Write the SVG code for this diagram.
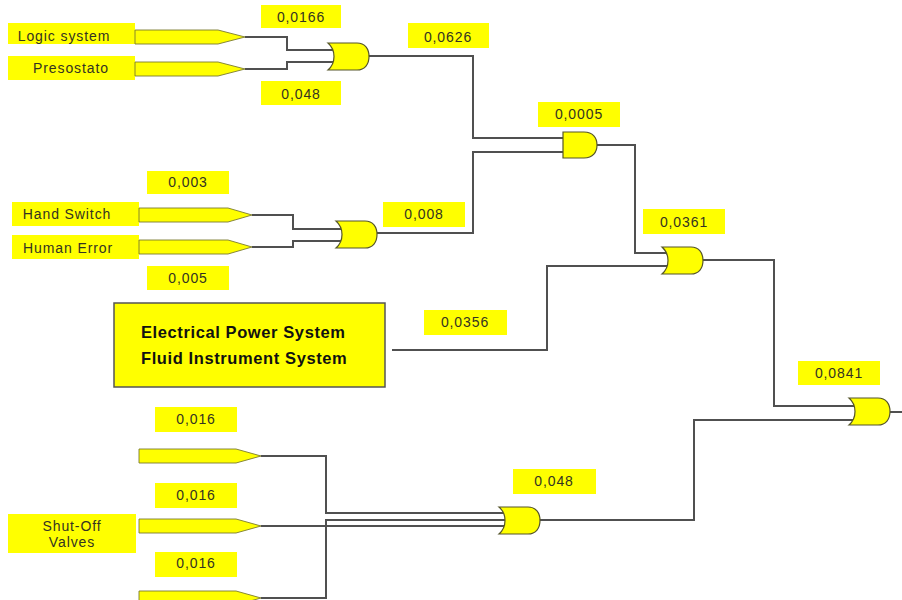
<svg xmlns="http://www.w3.org/2000/svg" width="902" height="600" viewBox="0 0 902 600">
<defs>
<style>
.bg{fill:#ffffff}
.box{fill:#ffff00}
.t{font-family:"Liberation Sans",Arial,sans-serif;font-size:14px;fill:#333322;letter-spacing:0.9px;text-anchor:middle}
.tb{font-family:"Liberation Sans",Arial,sans-serif;font-size:16.5px;font-weight:bold;fill:#111;letter-spacing:0.6px}
.ev{fill:#ffff00;stroke:#7a7a30;stroke-width:0.9}
.gate{fill:#ffff00;stroke:#55552a;stroke-width:1.2}
.wire{fill:none;stroke:#505050;stroke-width:2}
</style>
<path id="orG" d="M0,0 H29 C37,0 41,6 41,13.5 C41,21 37,27 29,27 H0 C8,20 8,7 0,0 Z"/>
<path id="andG" d="M0,0 H21 C30,0 34,6 34,13 C34,20 30,26 21,26 H0 Z"/>
</defs>
<rect class="bg" x="0" y="0" width="902" height="600"/>

<g id="connectors">
<polyline class="wire" points="245,37 287,37 287,50 334,50"/>
<polyline class="wire" points="245,69 287,69 287,62 334,62"/>
<polyline class="wire" points="368,56 473,56 473,138 566,138"/>
<polyline class="wire" points="377,233 473,233 473,152 566,152"/>
<polyline class="wire" points="252,215 293,215 293,229 341,229"/>
<polyline class="wire" points="252,247 293,247 293,241 341,241"/>
<polyline class="wire" points="597,145 635,145 635,253 668,253"/>
<polyline class="wire" points="392,350 547,350 547,266 668,266"/>
<polyline class="wire" points="702,260 774,260 774,406 854,406"/>
<polyline class="wire" points="539,520 694,520 694,420 854,420"/>
<polyline class="wire" points="890,412 902,412"/>
<polyline class="wire" points="261,456 326,456 326,513 505,513"/>
<polyline class="wire" points="261,526 505,526"/>
<polyline class="wire" points="261,598 326,598 326,520 505,520"/>
</g>

<g id="logic-system">
<rect class="box" x="8" y="23" width="127" height="21"/>
<text class="t" x="64" y="41">Logic system</text>
<polygon class="ev" points="135,30 218,30 245,37 218,44 135,44"/>
</g>
<g id="presostato">
<rect class="box" x="8" y="56" width="127" height="24"/>
<text class="t" x="71" y="73">Presostato</text>
<polygon class="ev" points="135,62 218,62 245,69 218,76 135,76"/>
</g>
<g id="p-0166"><rect class="box" x="261" y="5" width="80" height="23"/><text class="t" x="301" y="22">0,0166</text></g>
<g id="p-048a"><rect class="box" x="261" y="81" width="80" height="24"/><text class="t" x="301" y="99">0,048</text></g>
<g id="gate1"><use href="#orG" class="gate" x="328" y="43"/></g>
<g id="p-0626"><rect class="box" x="408" y="23" width="81" height="25"/><text class="t" x="448" y="42">0,0626</text></g>

<g id="hand-switch">
<rect class="box" x="12" y="202" width="127" height="24"/>
<text class="t" x="67" y="219">Hand Switch</text>
<polygon class="ev" points="139,208 228,208 252,215 228,222 139,222"/>
</g>
<g id="human-error">
<rect class="box" x="12" y="235" width="127" height="24"/>
<text class="t" x="68" y="253">Human Error</text>
<polygon class="ev" points="139,240 228,240 252,247 228,254 139,254"/>
</g>
<g id="p-003"><rect class="box" x="147" y="171" width="82" height="23"/><text class="t" x="188" y="187">0,003</text></g>
<g id="p-005"><rect class="box" x="147" y="266" width="82" height="24"/><text class="t" x="188" y="283">0,005</text></g>
<g id="gate2"><use href="#orG" class="gate" x="336" y="221"/></g>
<g id="p-008"><rect class="box" x="383" y="202" width="82" height="25"/><text class="t" x="424" y="219">0,008</text></g>

<g id="gate-and"><use href="#andG" class="gate" x="563" y="132"/></g>
<g id="p-0005"><rect class="box" x="538" y="102" width="82" height="25"/><text class="t" x="579" y="119">0,0005</text></g>

<g id="electrical">
<rect x="114" y="303" width="271" height="84" fill="#ffff00" stroke="#555" stroke-width="1.5"/>
<text class="tb" x="141" y="338">Electrical Power System</text>
<text class="tb" x="141" y="364">Fluid Instrument System</text>
</g>
<g id="p-0356"><rect class="box" x="424" y="310" width="83" height="25"/><text class="t" x="465" y="327">0,0356</text></g>

<g id="gate3"><use href="#orG" class="gate" x="662" y="247"/></g>
<g id="p-0361"><rect class="box" x="643" y="209" width="82" height="25"/><text class="t" x="684" y="227">0,0361</text></g>

<g id="gate5"><use href="#orG" class="gate" x="849" y="398"/></g>
<g id="p-0841"><rect class="box" x="798" y="361" width="82" height="24"/><text class="t" x="839" y="378">0,0841</text></g>

<g id="valve1">
<polygon class="ev" points="139,449 236,449 261,456 236,463 139,463"/>
</g>
<g id="valve2">
<polygon class="ev" points="139,519 236,519 261,526 236,533 139,533"/>
</g>
<g id="valve3">
<polygon class="ev" points="139,591 236,591 261,598 236,605 139,605"/>
</g>
<g id="shut-off">
<rect class="box" x="8" y="514" width="128" height="39"/>
<text class="t" x="72" y="531">Shut-Off</text>
<text class="t" x="72" y="547">Valves</text>
</g>
<g id="p-016a"><rect class="box" x="155" y="407" width="82" height="25"/><text class="t" x="196" y="424">0,016</text></g>
<g id="p-016b"><rect class="box" x="155" y="483" width="82" height="25"/><text class="t" x="196" y="500">0,016</text></g>
<g id="p-016c"><rect class="box" x="155" y="552" width="82" height="25"/><text class="t" x="196" y="568">0,016</text></g>

<g id="gate4"><use href="#orG" class="gate" x="499" y="507"/></g>
<g id="p-048b"><rect class="box" x="513" y="469" width="83" height="25"/><text class="t" x="554" y="486">0,048</text></g>
</svg>
